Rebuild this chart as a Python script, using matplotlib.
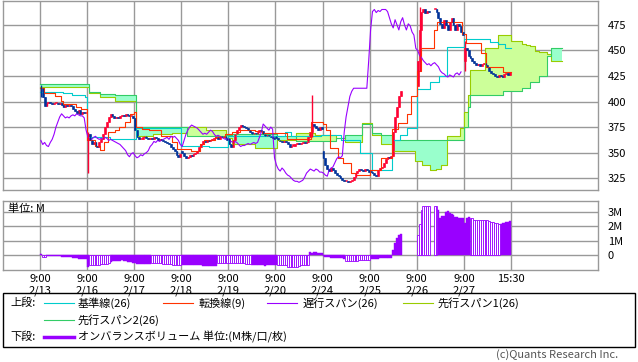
import numpy as np
import matplotlib
matplotlib.use("Agg")
import matplotlib.pyplot as plt
from matplotlib.lines import Line2D
from matplotlib.patches import Rectangle

plt.rcParams['font.family'] = ['Noto Sans CJK JP', 'DejaVu Sans']

# ---- data ----
day_labels = ["2/13", "2/16", "2/17", "2/18", "2/19", "2/20", "2/24", "2/25", "2/26", "2/27"]
BARS_PER_DAY = 25

# closes per bar, one list per day
close_days = [
    [413, 404, 396, 399, 400, 399, 398, 399, 399, 398, 399, 397, 395, 397, 396, 397, 396, 393, 391, 389, 392, 388, 390, 389, 389],
    [368, 362, 358, 360, 357, 356, 360, 363, 368, 375, 380, 385, 388, 386, 384, 385, 384, 386, 387, 386, 388, 387, 386, 386, 384],
    [372, 365, 363, 363, 365, 366, 364, 363, 364, 363, 365, 364, 362, 363, 362, 361, 360, 359, 358, 356, 354, 352, 348, 346, 349],
    [350, 347, 345, 346, 348, 347, 349, 350, 352, 356, 358, 361, 360, 362, 361, 362, 363, 364, 365, 363, 366, 365, 366, 364, 362],
    [358, 356, 362, 368, 372, 375, 377, 376, 375, 374, 372, 370, 368, 369, 368, 370, 372, 371, 368, 366, 367, 366, 365, 364, 363],
    [364, 362, 361, 360, 361, 360, 358, 356, 357, 357, 358, 359, 358, 359, 360, 359, 360, 365, 370, 378, 376, 374, 372, 375, 373],
    [345, 338, 334, 332, 335, 333, 330, 328, 327, 325, 323, 322, 322, 321, 322, 323, 326, 330, 332, 334, 333, 332, 334, 333, 331],
    [331, 330, 328, 327, 333, 335, 336, 340, 344, 346, 345, 347, 370, 385, 395, 405, 410, 413, 413, 413, 413, 413, 413, 413, 413],
    [440, 470, 488, 490, 487, 489, 488, 490, 490, 490, 488, 482, 476, 472, 480, 475, 470, 478, 482, 475, 470, 476, 474, 468, 465],
    [452, 450, 445, 443, 440, 438, 436, 437, 435, 437, 438, 436, 434, 430, 428, 427, 425, 424, 426, 425, 424, 427, 428, 426, 429],
]
day_open = [414, 362, 384, 352, 364, 366, 352, 332, 415, 440]

# long shadows
wick_idx = [0, 25, 144, 201, 225]
wick_hi = [416, 370, 406, 492, 459]
wick_lo = [404, 330, 365, 430, 430]

# on-balance volume (M), nan = no trading
nan = np.nan
obv_days = [
    [0.07, -0.14, -0.14, -0.05, -0.05, -0.06, -0.06, -0.06, -0.07, -0.07, -0.08, -0.12, -0.16, -0.16, -0.16, -0.16, -0.17, -0.22, -0.23, -0.23, -0.26, -0.3, -0.28, -0.3, -0.3],
    [-0.81, -0.72, -0.72, -0.7, -0.7, -0.68, -0.66, -0.65, -0.65, -0.63, -0.6, -0.58, -0.46, -0.44, -0.42, -0.4, -0.39, -0.39, -0.38, -0.4, -0.44, -0.46, -0.46, -0.5, -0.58],
    [-0.58, -0.6, -0.6, -0.6, -0.6, -0.6, -0.6, -0.6, -0.6, -0.58, -0.58, -0.58, -0.58, -0.58, -0.58, -0.6, -0.6, -0.62, -0.62, -0.62, -0.66, -0.68, -0.69, -0.69, -0.7],
    [-0.7, -0.72, -0.72, -0.72, -0.72, -0.72, -0.72, -0.72, -0.72, -0.72, -0.72, -0.74, -0.74, -0.74, -0.74, -0.74, -0.76, -0.74, -0.74, -0.58, -0.58, -0.58, -0.58, -0.58, -0.58],
    [-0.58, -0.58, -0.58, -0.58, -0.58, -0.58, -0.58, -0.58, -0.58, -0.6, -0.62, -0.62, -0.7, -0.72, -0.72, -0.72, -0.72, -0.72, -0.72, -0.74, -0.72, -0.72, -0.72, -0.72, -0.69],
    [-0.69, -0.69, -0.69, -0.69, -0.7, -0.7, -0.8, -0.81, -0.81, -0.81, -0.8, -0.8, -0.78, -0.67, -0.67, -0.67, -0.66, -0.66, 0.23, 0.12, 0.2, 0.2, 0.12, 0.12, 0.12],
    [-0.1, -0.12, -0.16, -0.16, -0.18, -0.2, -0.2, -0.23, -0.2, -0.2, -0.23, -0.3, -0.42, -0.44, -0.44, -0.42, -0.42, -0.4, -0.4, -0.36, -0.35, -0.35, -0.32, -0.35, -0.33],
    [-0.3, -0.3, -0.28, -0.3, -0.28, -0.24, -0.23, -0.23, -0.23, -0.24, -0.23, -0.23, 0.35, 0.81, 1.16, 1.39, 1.45, nan, nan, nan, nan, nan, nan, nan, nan],
    [1.4, 2.15, 3.1, 3.4, 3.4, 3.4, 3.4, nan, nan, 3.4, 3.4, 3.1, 2.6, 2.7, 2.7, 3.0, 3.05, 2.95, 2.85, 2.78, 2.66, 2.66, 2.6, 2.55, 2.55],
    [2.2, 2.6, 2.66, 2.6, 2.55, 2.42, 2.4, 2.4, 2.4, 2.4, 2.4, 2.4, 2.4, 2.38, 2.3, 2.26, 2.2, 2.2, 2.16, 2.15, 2.24, 2.24, 2.26, 2.3, 2.38],
]
obv_hollow = [(1, 2), (26, 36), (59, 74), (94, 111), (126, 142), (162, 174), (200, 210), (228, 243)]

# ichimoku lines as step change points (bar index, price)
tenkan_at = [0, 2, 8, 11, 12, 19, 22, 25, 29, 32, 34, 36, 40, 42, 45, 48, 50, 51, 54, 58, 64, 70, 73, 80, 85, 87, 93, 98,
             102, 106, 114, 118, 131, 144, 150, 152, 154, 158, 161, 165, 168, 175, 181, 187, 190, 195, 197, 200, 202, 209,
             211, 224, 226, 234, 237, 246]
tenkan_val = [413, 408, 405, 401, 398, 395, 393, 362, 357, 353, 360, 370, 372, 375, 380, 388, 390, 375, 373, 372, 366, 360,
              354, 352, 358, 362, 365, 368, 370, 372, 371, 369, 363, 380, 378, 372, 355, 345, 340, 330, 328, 333, 345, 373,
              379, 388, 405, 430, 452, 470, 478, 466, 457, 447, 434, 429]
kijun_at = [0, 12, 17, 24, 25, 37, 51, 75, 90, 100, 130, 133, 149, 160, 170, 176, 187, 191, 195, 200, 207, 212, 216, 225,
            239, 243, 247]
kijun_val = [409, 408, 406, 404, 365, 363, 374, 357, 356, 366, 370, 366, 367, 362, 350, 333, 362, 367, 374, 412, 419, 425,
             453, 461, 458, 456, 452]
span_at = [0, 26, 32, 40, 51, 60, 70, 78, 88, 99, 102, 114, 126, 136, 146, 157, 162, 171, 176, 181, 187, 199, 203, 207,
           210, 213, 216, 223, 225, 227, 228, 236, 243, 246, 250, 256, 258, 260, 263, 265, 269, 271]
span1_val = [414, 408, 404, 401, 366, 368, 369, 375, 372, 364, 358, 355, 362, 369, 367, 364, 360, 379, 367, 358, 352, 342,
             338, 333, 334, 338, 366, 374, 390, 406, 431, 452, 465, 465, 459, 456, 455, 454, 449, 448, 446, 440]
span2_val = [417, 409, 407, 406, 375, 375, 375, 366, 366, 367, 368, 368, 366, 361, 361, 364, 367, 378, 369, 367, 362, 362,
             362, 362, 362, 362, 362, 362, 375, 395, 406, 406, 406, 410, 410, 413, 413, 419, 419, 425, 445, 452]
SHIFT = 26

# ---- build ----
close = np.array(sum(close_days, []), dtype=float)
obv = np.array(sum(obv_days, []), dtype=float)
n = len(close)
opn = np.r_[close[0], close[:-1]]
opn[::BARS_PER_DAY] = day_open
hi = np.maximum(opn, close)
lo = np.minimum(opn, close)
for i, h, l in zip(wick_idx, wick_hi, wick_lo):
    hi[i] = max(hi[i], h)
    lo[i] = min(lo[i], l)
traded = ~np.isnan(obv)
xb = np.arange(n) + 0.5

W, H = 638, 362
fig = plt.figure(figsize=(W / 100, H / 100), dpi=100)
fig.patch.set_facecolor("white")

def fx(x):
    return x / W

def fy(y):
    return 1 - y / H

GRID = "#999999"
LW = 0.8
ax1 = fig.add_axes([fx(3), fy(190), fx(595), 189 / H])
ax2 = fig.add_axes([fx(3), fy(270), fx(595), 69 / H])
xmin, xmax = -19.6, 296.2
ticks = list(range(0, n + 1, BARS_PER_DAY))

for ax in (ax1, ax2):
    ax.set_xlim(xmin, xmax)
    ax.set_xticks(ticks)
    ax.grid(True, color=GRID, linewidth=1.0)
    ax.set_axisbelow(True)
    for s in ax.spines.values():
        s.set_color(GRID)
        s.set_linewidth(1.0)
    ax.yaxis.tick_right()
    ax.tick_params(length=0, labelsize=8, pad=7)

# upper panel
ax1.set_ylim(313.5, 498.3)
ax1.set_yticks([325, 350, 375, 400, 425, 450, 475])
ax1.set_xticklabels([])

sx = span_at + [n + SHIFT + 1]
s1 = np.array(span1_val + [span1_val[-1]], dtype=float)
s2 = np.array(span2_val + [span2_val[-1]], dtype=float)
ax1.fill_between(sx, s2, np.maximum(s1, s2), step="post", color="#ccff99", linewidth=0)
ax1.fill_between(sx, s1, np.maximum(s1, s2), step="post", color="#99ffcc", linewidth=0)
ax1.step(sx, s1, where="post", color="#99cc00", linewidth=LW)
ax1.step(sx, s2, where="post", color="#33cc66", linewidth=LW)
ax1.step(kijun_at + [n], kijun_val + [kijun_val[-1]], where="post", color="#00cccc", linewidth=LW)
ax1.step(tenkan_at + [n], tenkan_val + [tenkan_val[-1]], where="post", color="#ff3300", linewidth=LW)
ax1.plot(xb[SHIFT:] - SHIFT, close[SHIFT:], color="#9900ff", linewidth=LW)

up = close >= opn
for mask, col in ((up & traded, "#ff0033"), (~up & traded, "#003399")):
    ax1.vlines(xb[mask], lo[mask], hi[mask], color=col, linewidth=1.0)
    body = np.maximum(np.abs(close - opn), 1.0)[mask]
    ax1.bar(xb[mask], body, bottom=np.minimum(opn, close)[mask], width=1.0,
            color=col, edgecolor=col, linewidth=0.4)

# lower panel
ax2.set_ylim(-1.04, 3.75)
ax2.set_yticks([0, 1, 2, 3])
ax2.set_yticklabels(["0", "1M", "2M", "3M"])
ax2.set_xticklabels([f"9:00\n{d}" for d in day_labels] + ["15:30"], linespacing=1.15)
ax2.tick_params(axis="x", pad=3)
for lab in ax2.get_xticklabels():
    lab.set_verticalalignment("top")

hollow = np.zeros(n, dtype=bool)
for a, b in obv_hollow:
    hollow[a:b + 1] = True
m = traded & ~hollow
ax2.bar(xb[m], obv[m], width=1.0, color="#9900ff", edgecolor="#9900ff", linewidth=0.3)
m = traded & hollow
ax2.bar(xb[m], obv[m], width=1.0, facecolor="white", edgecolor="#9900ff", linewidth=0.6)
fig.text(fx(8), fy(209), "単位: M", fontsize=8, va="center")

# legend box
fig.add_artist(Rectangle((fx(3), fy(347)), fx(632), 54 / H, transform=fig.transFigure,
                         fill=False, edgecolor="black", linewidth=1.0))
rows = [
    (303, [("#00cccc", 44, 78, "基準線(26)"), ("#ff3300", 163, 199, "転換線(9)"),
           ("#9900ff", 267, 303, "遅行スパン(26)"), ("#99cc00", 403, 438, "先行スパン1(26)")]),
    (320, [("#33cc66", 44, 78, "先行スパン2(26)")]),
]
fig.text(fx(10), fy(303), "上段:", fontsize=8, va="center")
for y, items in rows:
    for col, x0, xt, lab in items:
        fig.add_artist(Line2D([fx(x0), fx(x0 + 30)], [fy(y), fy(y)], transform=fig.transFigure,
                              color=col, linewidth=LW))
        fig.text(fx(xt), fy(y), lab, fontsize=8, va="center")
fig.text(fx(10), fy(337), "下段:", fontsize=8, va="center")
fig.add_artist(Line2D([fx(44), fx(74)], [fy(337), fy(337)], transform=fig.transFigure,
                      color="#9900ff", linewidth=2.5))
fig.text(fx(78), fy(337), "オンバランスボリューム 単位:(M株/口/枚)", fontsize=8, va="center")

fig.text(fx(618), fy(355), "(c)Quants Research Inc.", fontsize=8, ha="right", va="center", color="#555555")

fig.savefig("out.png", dpi=100)
